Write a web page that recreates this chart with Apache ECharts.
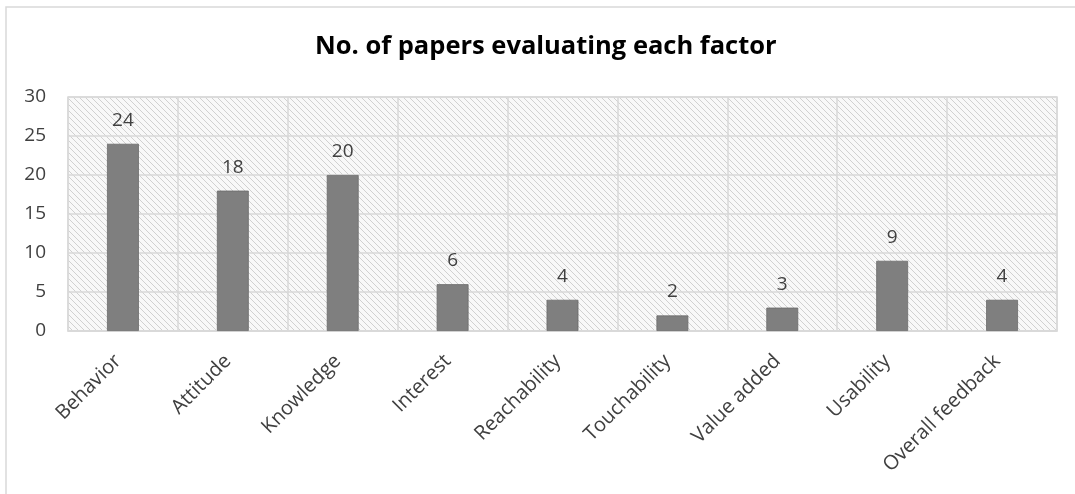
<!DOCTYPE html>
<html><head><meta charset="utf-8">
<script src="https://cdn.jsdelivr.net/npm/echarts@6/dist/echarts.min.js"></script>
<style>html,body{margin:0;padding:0;background:#fff}#c{width:1075px;height:494px}</style>
</head><body><div id="c"></div>
<script>
var categories = ['Behavior','Attitude','Knowledge','Interest','Reachability','Touchability','Value added','Usability','Overall feedback'];
var values = [24,18,20,6,4,2,3,9,4];
var yTicks = [0,5,10,15,20,25,30];
var titleText = 'No. of papers evaluating each factor';

var tile = document.createElement('canvas');
tile.width = 6; tile.height = 6;
var g = tile.getContext('2d');
g.fillStyle = '#f8f8f8'; g.fillRect(0,0,6,6);
g.strokeStyle = '#d0d0d0'; g.lineWidth = 1;
for (var k = -6; k <= 6; k += 6) { g.beginPath(); g.moveTo(k,0); g.lineTo(k+6,6); g.stroke(); }

var font = '"Open Sans", sans-serif';
var mc = document.createElement('canvas').getContext('2d');
mc.font = 'bold 25.5px "Open Sans", sans-serif';
var tw = mc.measureText(titleText).width;

var chart = echarts.init(document.getElementById('c'), null, {renderer:'canvas'});
chart.setOption({
  animation:false,
  title:{text:titleText, left:Math.round(546 - tw/2 - 5), top:29,
    textStyle:{fontFamily:font, fontSize:25.5, fontWeight:'bold', color:'#000'}},
  graphic:[{type:'rect', shape:{x:6,y:7,width:1200,height:600}, style:{fill:'none', stroke:'#d9d9d9', lineWidth:1.5}, silent:true}],
  grid:{left:68, right:18, top:97, bottom:163, show:true, backgroundColor:{image:tile, repeat:'repeat'}, borderColor:'#d9d9d9', borderWidth:1.5},
  xAxis:{type:'category', data:categories,
    axisLine:{show:true, lineStyle:{color:'#d9d9d9', width:1.5}},
    axisTick:{show:false},
    splitLine:{show:true, lineStyle:{color:'#d9d9d9', width:1.5}},
    axisLabel:{rotate:45, interval:0, margin:22, padding:[0,7,0,0], color:'#404040', fontFamily:font, fontSize:20}},
  yAxis:{type:'value', min:yTicks[0], max:yTicks[yTicks.length-1], interval:5,
    axisLine:{show:false}, axisTick:{show:false},
    splitLine:{show:true, lineStyle:{color:'#d9d9d9', width:1.5}},
    axisLabel:{margin:22, color:'#404040', fontFamily:font, fontSize:19}},
  series:[{type:'bar', data:values, barWidth:'29%',
    itemStyle:{color:'#7f7f7f', borderColor:'#6b6b6b', borderWidth:0.8},
    label:{show:true, position:'top', distance:14, color:'#404040', fontFamily:font, fontSize:19}}]
});
</script></body></html>
